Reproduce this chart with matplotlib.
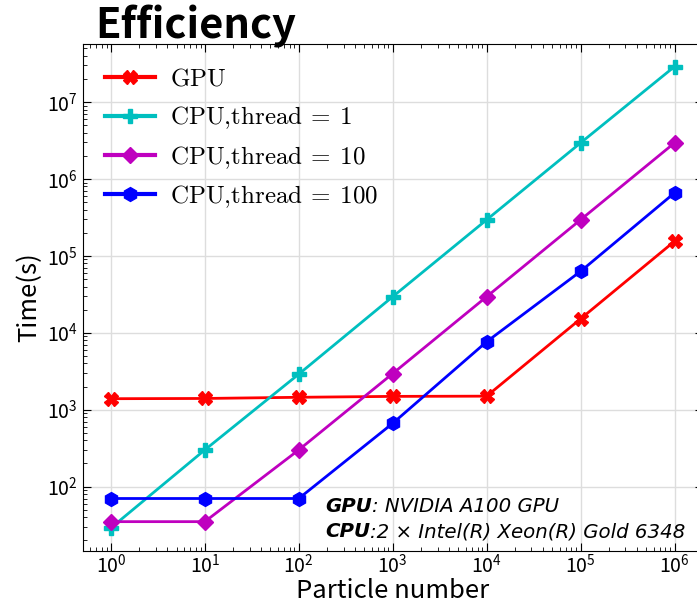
import matplotlib
matplotlib.use("Agg")
import matplotlib.pyplot as plt
import numpy as np

particles = [1, 10, 100, 1e3, 1e4, 1e5, 1e6]
gpu = [1390, 1400, 1450, 1490, 1500, 15200, 155000]
cpu_t1 = [29, 300, 2900, 29500, 295000, 2.95e6, 2.9e7]
cpu_t10 = [35, 35, 300, 2950, 29500, 2.95e5, 2.95e6]
cpu_t100 = [70, 70, 70, 665, 7650, 63000, 660000]

series = [
    (gpu, r"$\mathrm{GPU}$", "r", "X", 10),
    (cpu_t1, r"$\mathrm{CPU{,}thread}\:=\:1$", "c", "P", 10),
    (cpu_t10, r"$\mathrm{CPU{,}thread}\:=\:10$", "m", "D", 8),
    (cpu_t100, r"$\mathrm{CPU{,}thread}\:=\:100$", "b", "h", 10),
]

plt.rcParams['font.family'] = ['Noto Sans CJK JP', 'DejaVu Sans']
plt.rcParams['axes.unicode_minus'] = False

W, H = 697, 609
fig = plt.figure(figsize=(W / 100, H / 100), dpi=100)
ax = fig.add_axes([82.7 / W, (H - 551) / H, 620 / W, 507.5 / H])

for vals, label, color, marker, ms in series:
    ax.plot(particles, vals, color=color, marker=marker, markersize=ms,
            linewidth=2, label=label)

ax.set_xscale("log")
ax.set_yscale("log")

ax.grid(True, which="major", color="#dddddd", linewidth=1)
ax.tick_params(which="both", direction="in", top=True, right=True)
ax.tick_params(which="major", length=6, labelsize=14)
ax.tick_params(axis="x", which="major", pad=2)
ax.tick_params(which="minor", length=3)

ax.set_xlabel("Particle number", fontsize=18.5, labelpad=0)
ax.set_ylabel("Time(s)", fontsize=18.5, labelpad=3)

leg = ax.legend(loc="upper left", frameon=False, handletextpad=0.6,
                prop={"size": 18, "math_fontfamily": "cm"})
for line in leg.get_lines():
    line.set_linewidth(3)

fig.text(95 / W, 1 - 39 / H, "Efficiency", fontsize=30, fontweight="bold",
         va="baseline", ha="left")

t1 = fig.text(325 / W, 1 - 512 / H, "GPU", fontsize=14.2, fontweight="bold",
              fontstyle="italic", family="DejaVu Sans", va="baseline")
ax.annotate(": NVIDIA A100 GPU", xy=(1, 0), xycoords=t1, va="bottom",
            fontsize=14.2, fontstyle="italic", family="DejaVu Sans")
t2 = fig.text(325 / W, 1 - 537 / H, "CPU", fontsize=14.2, fontweight="bold",
              fontstyle="italic", family="DejaVu Sans", va="baseline")
ax.annotate(":2 \u00d7 Intel(R) Xeon(R) Gold 6348", xy=(1, 0), xycoords=t2,
            va="bottom", fontsize=14.2, fontstyle="italic", family="DejaVu Sans")

fig.savefig("out.png", dpi=100)
